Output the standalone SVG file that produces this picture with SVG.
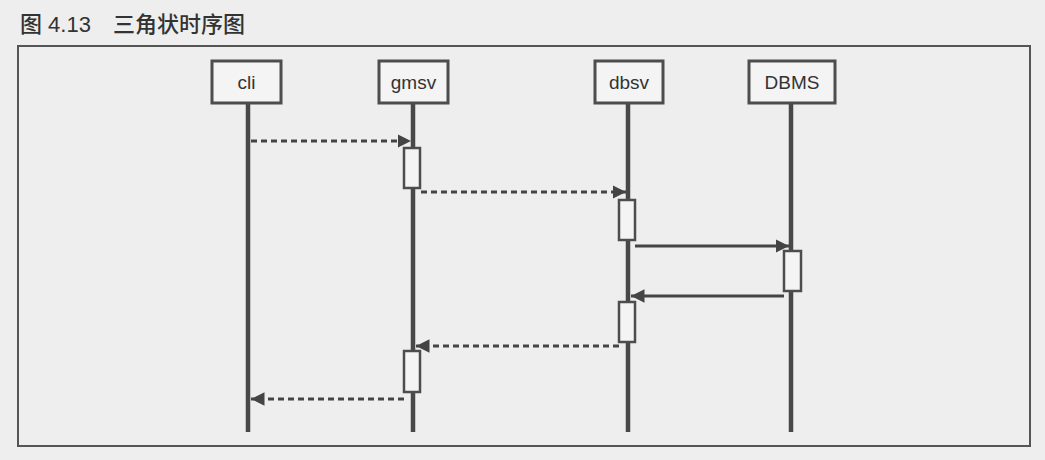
<svg xmlns="http://www.w3.org/2000/svg" width="1045" height="460" viewBox="0 0 1045 460">
<style>
.title{font-family:"Liberation Sans","Noto Sans CJK SC",sans-serif;font-size:22px;font-weight:500;fill:#333}
.lbl{font-family:"Liberation Sans",Arial,sans-serif;font-size:19px;fill:#333;text-anchor:middle}
.box{fill:#f4f4f4;stroke:#4d4d4d;stroke-width:3}
.life{stroke:#484848;stroke-width:4.5}
.act{fill:#f4f4f4;stroke:#4d4d4d;stroke-width:2.5}
.msg{stroke:#444;stroke-width:3;fill:none}
.dash{stroke-dasharray:6 4}
</style>
<defs>
<marker id="ah" viewBox="0 0 10 10" refX="10" refY="5" markerWidth="4.5" markerHeight="4.5" markerUnits="strokeWidth" orient="auto">
<path d="M0,0 L10,5 L0,10 z" fill="#444"/>
</marker>
</defs>
<rect width="1045" height="460" fill="#eeeeee"/>
<text class="title" x="20" y="32">图 4.13　三角状时序图</text>
<rect x="18" y="46" width="1012" height="400" fill="none" stroke="#555" stroke-width="2"/>
<g id="cli">
<line class="life" x1="248" y1="103" x2="248" y2="432"/>
<rect class="box" x="212" y="61" width="69" height="42"/>
<text class="lbl" x="246.5" y="89">cli</text>
</g>
<g id="gmsv">
<line class="life" x1="413" y1="103" x2="413" y2="432"/>
<rect class="box" x="379" y="61" width="69" height="42"/>
<text class="lbl" x="413.5" y="89">gmsv</text>
<rect class="act" x="404" y="148" width="16" height="40"/>
<rect class="act" x="404" y="351" width="16" height="41"/>
</g>
<g id="dbsv">
<line class="life" x1="628" y1="103" x2="628" y2="432"/>
<rect class="box" x="595" y="61" width="68" height="42"/>
<text class="lbl" x="629" y="89">dbsv</text>
<rect class="act" x="619" y="200" width="16" height="40"/>
<rect class="act" x="619" y="302" width="16" height="40"/>
</g>
<g id="DBMS">
<line class="life" x1="791" y1="103" x2="791" y2="432"/>
<rect class="box" x="749" y="61" width="86" height="42"/>
<text class="lbl" x="792" y="89">DBMS</text>
<rect class="act" x="784" y="251" width="17" height="40"/>
</g>
<g id="connectors">
<line class="msg dash" x1="251" y1="141" x2="411" y2="141" marker-end="url(#ah)"/>
<line class="msg dash" x1="421" y1="192" x2="626" y2="192" marker-end="url(#ah)"/>
<line class="msg" x1="635" y1="246" x2="789" y2="246" marker-end="url(#ah)"/>
<line class="msg" x1="784" y1="296" x2="631" y2="296" marker-end="url(#ah)"/>
<line class="msg dash" x1="619" y1="346" x2="416" y2="346" marker-end="url(#ah)"/>
<line class="msg dash" x1="404" y1="399" x2="251" y2="399" marker-end="url(#ah)"/>
</g>
</svg>
